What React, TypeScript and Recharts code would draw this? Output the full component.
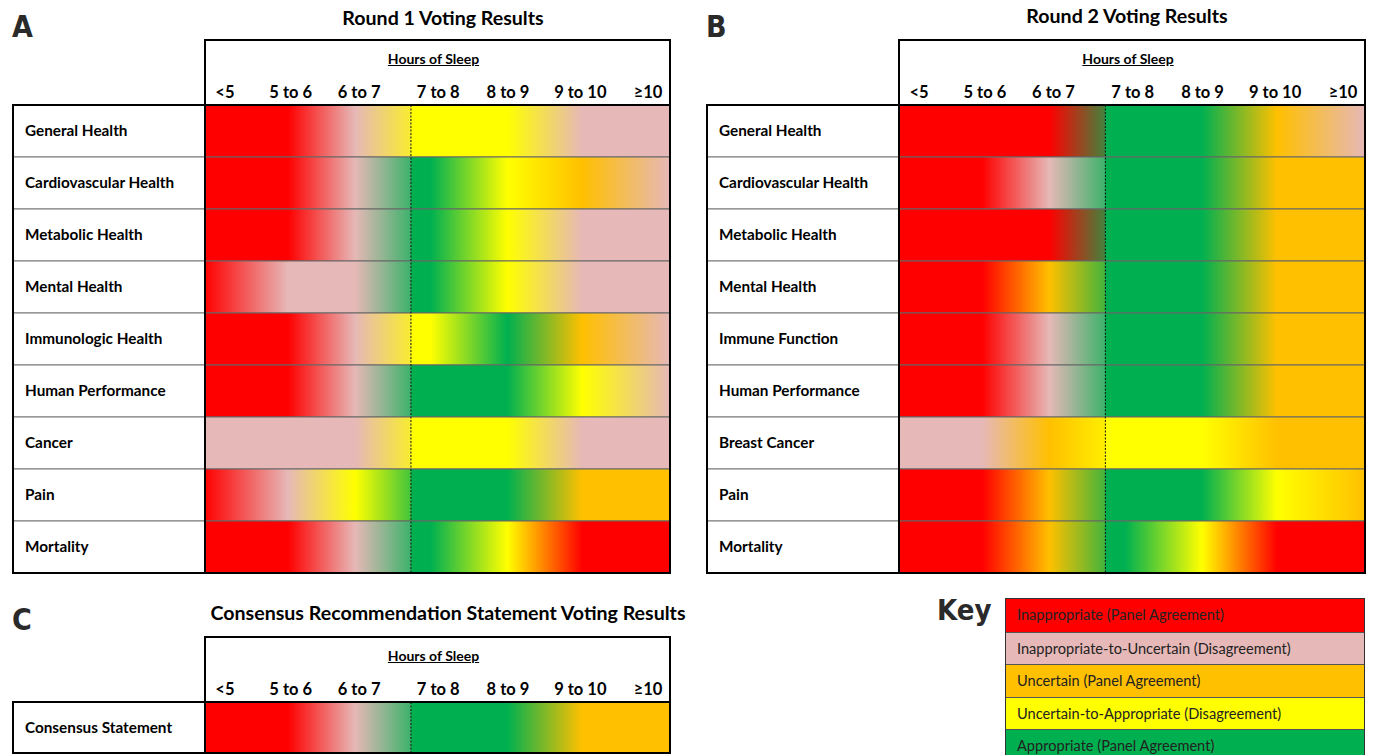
import React from 'react';
import { Bar, BarChart, Cell, ReferenceLine, XAxis, YAxis } from 'recharts';

const HOURS = ['<5', '5 to 6', '6 to 7', '7 to 8', '8 to 9', '9 to 10', '≥10'];

// R = inappropriate, P = inappropriate-to-uncertain, O = uncertain,
// Y = uncertain-to-appropriate, G = appropriate
const KEY_CODES = ['R', 'P', 'O', 'Y', 'G'];
const KEY_LABELS = [
  'Inappropriate (Panel Agreement)',
  'Inappropriate-to-Uncertain (Disagreement)',
  'Uncertain (Panel Agreement)',
  'Uncertain-to-Appropriate (Disagreement)',
  'Appropriate (Panel Agreement)',
];

const ROUND1_OUTCOMES = [
  'General Health',
  'Cardiovascular Health',
  'Metabolic Health',
  'Mental Health',
  'Immunologic Health',
  'Human Performance',
  'Cancer',
  'Pain',
  'Mortality',
];
const ROUND1_RATINGS = [
  ['R', 'R', 'P', 'Y', 'Y', 'P', 'P'],
  ['R', 'R', 'P', 'G', 'Y', 'O', 'P'],
  ['R', 'R', 'P', 'G', 'Y', 'P', 'P'],
  ['R', 'P', 'P', 'G', 'Y', 'P', 'P'],
  ['R', 'R', 'P', 'Y', 'G', 'O', 'P'],
  ['R', 'R', 'P', 'G', 'G', 'Y', 'P'],
  ['P', 'P', 'P', 'Y', 'Y', 'P', 'P'],
  ['R', 'P', 'Y', 'G', 'G', 'O', 'O'],
  ['R', 'R', 'P', 'G', 'Y', 'R', 'R'],
];

const ROUND2_OUTCOMES = [
  'General Health',
  'Cardiovascular Health',
  'Metabolic Health',
  'Mental Health',
  'Immune Function',
  'Human Performance',
  'Breast Cancer',
  'Pain',
  'Mortality',
];
const ROUND2_RATINGS = [
  ['R', 'R', 'R', 'G', 'G', 'O', 'P'],
  ['R', 'R', 'P', 'G', 'G', 'O', 'O'],
  ['R', 'R', 'R', 'G', 'G', 'O', 'O'],
  ['R', 'R', 'O', 'G', 'G', 'O', 'O'],
  ['R', 'R', 'P', 'G', 'G', 'O', 'O'],
  ['R', 'R', 'P', 'G', 'G', 'O', 'O'],
  ['P', 'P', 'O', 'Y', 'Y', 'O', 'O'],
  ['R', 'R', 'O', 'G', 'G', 'Y', 'O'],
  ['R', 'R', 'O', 'G', 'Y', 'R', 'R'],
];

const CONSENSUS_OUTCOMES = ['Consensus Statement'];
const CONSENSUS_RATINGS = [['R', 'R', 'P', 'G', 'G', 'O', 'O']];

const COLORS: Record<string, string> = {
  R: '#ff0000',
  P: '#e6b8b7',
  O: '#ffc000',
  Y: '#ffff00',
  G: '#00b050',
};

// where each hour band's colour peaks along the row, in axis units (0..7)
const STOP_AT = [0, 1.25, 2.26, 3.4, 4.55, 5.68, 7];
const SPLIT_AT = 3.1;
const TICK_AT = [0.3, 1.29, 2.32, 3.51, 4.56, 5.65, 6.67];

const FONT = "Lato, 'Open Sans', sans-serif";
const NARROW = "'Liberation Sans Narrow', 'DejaVu Sans Condensed', sans-serif";

function hex(c: string) {
  return [1, 3, 5].map((i) => parseInt(c.slice(i, i + 2), 16));
}

function mix(a: string, b: string, t: number) {
  const A = hex(a);
  const B = hex(b);
  const m = A.map((v, i) => Math.round(v + (B[i] - v) * t));
  return `rgb(${m[0]},${m[1]},${m[2]})`;
}

function rowStops(ratings: string[]) {
  const n = HOURS.length;
  const out: { off: number; color: string }[] = [];
  ratings.forEach((code, i) => {
    if (i === 3) {
      const t = (SPLIT_AT - STOP_AT[2]) / (STOP_AT[3] - STOP_AT[2]);
      out.push({ off: SPLIT_AT / n, color: mix(COLORS[ratings[2]], COLORS[code], t) });
      out.push({ off: SPLIT_AT / n, color: COLORS[code] });
    }
    out.push({ off: STOP_AT[i] / n, color: COLORS[code] });
  });
  return out;
}

function HourTick(props: any) {
  const { x, index, headH } = props;
  return (
    <text
      x={x}
      y={headH - 13}
      textAnchor="middle"
      dominantBaseline="central"
      fontFamily={FONT}
      fontWeight={700}
      fontSize={16.5}
      fill="#000"
    >
      {HOURS[index]}
    </text>
  );
}

function OutcomeTick(props: any) {
  const { y, payload, rowH, labelW } = props;
  return (
    <g>
      <rect x={0} y={y - rowH / 2} width={labelW} height={rowH} fill="#fff" stroke="#777" strokeWidth={1} />
      <text
        x={12}
        y={y - 1}
        dominantBaseline="central"
        fontFamily={FONT}
        fontWeight={700}
        fontSize={15.3}
        fill="#000"
      >
        {payload.value}
      </text>
    </g>
  );
}

type PanelProps = {
  id: string;
  letter: string;
  letterTop: number;
  title: string;
  titleX: number;
  titleY: number;
  left: number;
  top: number;
  gridLeft: number;
  gridRight: number;
  rowsTop: number;
  rowsBottom: number;
  outcomes: string[];
  ratings: string[][];
};

function Panel(p: PanelProps) {
  const width = p.gridRight - p.left;
  const height = p.rowsBottom - p.top;
  const labelW = p.gridLeft - p.left;
  const gridW = p.gridRight - p.gridLeft;
  const headH = p.rowsTop - p.top;
  const rowH = (p.rowsBottom - p.rowsTop) / p.outcomes.length;
  const data = p.outcomes.map((name) => ({ name, span: HOURS.length }));
  const box = (l: number, t: number, w: number, h: number, k: string) => (
    <div
      key={k}
      style={{
        position: 'absolute',
        left: l - 1,
        top: t - 1,
        width: w + 2,
        height: h + 2,
        border: '2px solid #000',
        boxSizing: 'border-box',
        pointerEvents: 'none',
      }}
    />
  );
  return (
    <>
      <div
        style={{
          position: 'absolute',
          left: p.left - 1,
          top: p.letterTop,
          fontFamily: NARROW,
          fontWeight: 700,
          fontSize: 30,
          lineHeight: '34px',
          color: '#2a2a2a',
        }}
      >
        {p.letter}
      </div>
      <div
        style={{
          position: 'absolute',
          left: p.titleX - 300,
          width: 600,
          top: p.titleY - 12,
          height: 24,
          lineHeight: '24px',
          textAlign: 'center',
          fontFamily: FONT,
          fontWeight: 700,
          fontSize: 19.6,
          color: '#000',
        }}
      >
        {p.title}
      </div>
      <div style={{ position: 'absolute', left: p.left, top: p.top, width, height }}>
        <div
          style={{
            position: 'absolute',
            left: labelW,
            width: gridW,
            top: 0,
            height: headH,
            background: '#fff',
          }}
        />
        <div
          style={{
            position: 'absolute',
            left: labelW - 4,
            width: gridW,
            top: 10,
            height: 18,
            lineHeight: '18px',
            textAlign: 'center',
            fontFamily: FONT,
            fontWeight: 700,
            fontSize: 14,
            textDecoration: 'underline',
          }}
        >
          Hours of Sleep
        </div>
        <div style={{ position: 'absolute', left: 0, top: 0 }}>
          <BarChart
            width={width}
            height={height}
            data={data}
            layout="vertical"
            margin={{ top: 0, right: 0, bottom: 0, left: 0 }}
            barCategoryGap={0}
          >
            <defs>
              {p.ratings.map((r, i) => (
                <linearGradient key={i} id={`${p.id}-${i}`} x1="0" y1="0" x2="1" y2="0">
                  {rowStops(r).map((s, j) => (
                    <stop key={j} offset={s.off} stopColor={s.color} />
                  ))}
                </linearGradient>
              ))}
            </defs>
            <XAxis
              type="number"
              orientation="top"
              domain={[0, HOURS.length]}
              ticks={TICK_AT}
              interval={0}
              height={headH}
              axisLine={false}
              tickLine={false}
              tick={<HourTick headH={headH} />}
            />
            <YAxis
              type="category"
              dataKey="name"
              width={labelW}
              interval={0}
              axisLine={false}
              tickLine={false}
              tick={<OutcomeTick rowH={rowH} labelW={labelW} />}
            />
            <Bar dataKey="span" isAnimationActive={false} stroke="#666" strokeWidth={1}>
              {data.map((d, i) => (
                <Cell key={d.name} fill={`url(#${p.id}-${i})`} />
              ))}
            </Bar>
            <ReferenceLine x={SPLIT_AT} stroke="#111" strokeWidth={1} strokeDasharray="2 1.5" />
          </BarChart>
        </div>
        {box(labelW, 0, gridW, headH, 'h')}
        {box(0, headH, labelW, height - headH, 'l')}
        {box(labelW, headH, gridW, height - headH, 'g')}
      </div>
    </>
  );
}

function Key() {
  const rowH = 32.5;
  return (
    <>
      <div
        style={{
          position: 'absolute',
          left: 937,
          top: 592,
          fontFamily: NARROW,
          fontWeight: 700,
          fontSize: 29,
          lineHeight: '36px',
          color: '#2a2a2a',
        }}
      >
        Key
      </div>
      <div
        style={{
          position: 'absolute',
          left: 1005,
          top: 598,
          width: 360,
          height: rowH * KEY_CODES.length,
          border: '1.5px solid #333',
          boxSizing: 'border-box',
        }}
      >
        {KEY_CODES.map((c, i) => (
          <div
            key={c}
            style={{
              height: rowH,
              boxSizing: 'border-box',
              borderTop: i ? '1px solid #555' : 'none',
              background: COLORS[c],
              paddingLeft: 11,
              lineHeight: `${rowH - 1}px`,
              fontFamily: FONT,
              fontSize: 14.6,
              color: '#222',
            }}
          >
            {KEY_LABELS[i]}
          </div>
        ))}
      </div>
    </>
  );
}

export default function App() {
  return (
    <div
      style={{
        position: 'absolute',
        left: 0,
        top: 0,
        width: 1373,
        height: 755,
        background: '#fff',
        overflow: 'hidden',
      }}
    >
      <Panel
        id="r1"
        letter="A"
        letterTop={10}
        title="Round 1 Voting Results"
        titleX={443}
        titleY={18}
        left={13}
        top={40}
        gridLeft={205}
        gridRight={670}
        rowsTop={105}
        rowsBottom={573}
        outcomes={ROUND1_OUTCOMES}
        ratings={ROUND1_RATINGS}
      />
      <Panel
        id="r2"
        letter="B"
        letterTop={10}
        title="Round 2 Voting Results"
        titleX={1127}
        titleY={16}
        left={707}
        top={40}
        gridLeft={899}
        gridRight={1365}
        rowsTop={105}
        rowsBottom={573}
        outcomes={ROUND2_OUTCOMES}
        ratings={ROUND2_RATINGS}
      />
      <Panel
        id="c"
        letter="C"
        letterTop={603}
        title="Consensus Recommendation Statement Voting Results"
        titleX={448}
        titleY={613}
        left={13}
        top={637}
        gridLeft={205}
        gridRight={670}
        rowsTop={702}
        rowsBottom={753}
        outcomes={CONSENSUS_OUTCOMES}
        ratings={CONSENSUS_RATINGS}
      />
      <Key />
    </div>
  );
}
